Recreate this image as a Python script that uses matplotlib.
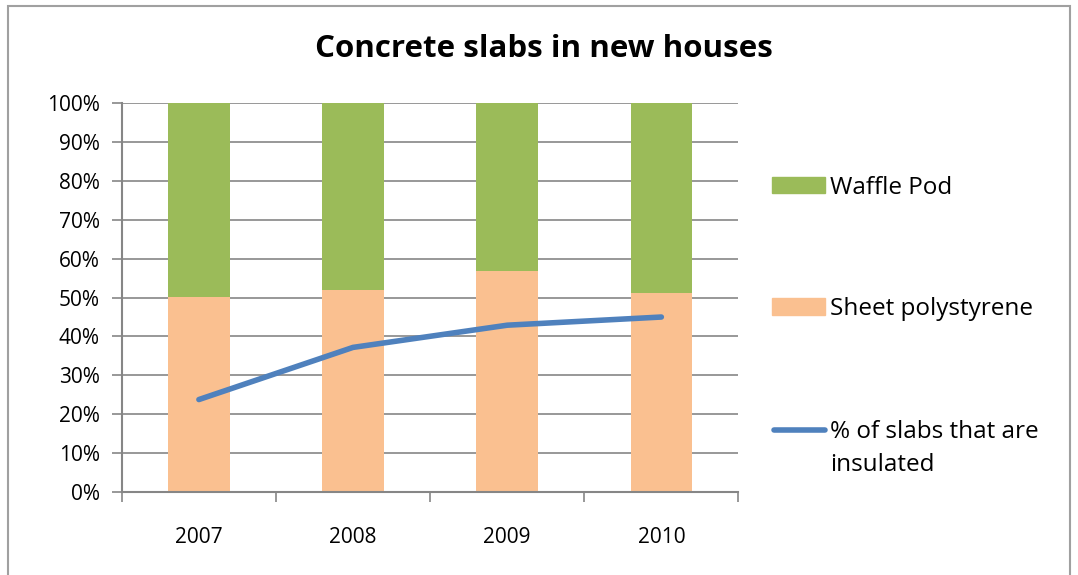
import matplotlib
matplotlib.use("Agg")
import matplotlib.pyplot as plt
from matplotlib.patches import Rectangle
from matplotlib.lines import Line2D
from matplotlib.ticker import FixedLocator, PercentFormatter
import numpy as np

years = ["2007", "2008", "2009", "2010"]
sheet_poly = [50.1, 51.9, 56.9, 51.3]
waffle_pod = [100 - v for v in sheet_poly]
insulated = [23.8, 37.2, 42.9, 45.0]
legend_labels = ["Waffle Pod", "Sheet polystyrene", "% of slabs that are\ninsulated"]

plt.rcParams['font.family'] = ['Open Sans', 'DejaVu Sans']

W, H = 1078, 575
fig = plt.figure(figsize=(W / 100, H / 100), dpi=100)
ax = fig.add_axes([0.113, 0.144, 0.572, 0.677])

x = np.arange(len(years))
green = "#9BBB59"
orange = "#FAC090"
blue = "#4F81BD"
grey = "#868686"

ax.bar(x, sheet_poly, width=0.4, color=orange, zorder=2)
ax.bar(x, waffle_pod, bottom=sheet_poly, width=0.4, color=green, zorder=2)
ax.plot(x, insulated, color=blue, lw=4, solid_capstyle='round', zorder=3)

ax.set_xlim(-0.5, len(years) - 0.5)
ax.set_ylim(0, 100)
ax.set_yticks(np.arange(0, 101, 10))
ax.yaxis.set_major_formatter(PercentFormatter(decimals=0))
ax.set_xticks(x)
ax.set_xticklabels(years)
ax.xaxis.set_minor_locator(FixedLocator(np.arange(-0.5, len(years), 1.0)))
ax.tick_params(axis='x', which='major', length=0, pad=25, labelsize=15)
ax.tick_params(axis='x', which='minor', length=7, color=grey, width=1.2, direction='out')
ax.tick_params(axis='y', length=7, color=grey, width=1.2, direction='out', labelsize=15, pad=9)
ax.grid(axis='y', color=grey, lw=1.2, zorder=1)
ax.set_axisbelow(True)
for s in ['top', 'right']:
    ax.spines[s].set_visible(False)
for s in ['left', 'bottom']:
    ax.spines[s].set_color(grey)
    ax.spines[s].set_linewidth(1.5)

fig.text(0.505, 0.915, "Concrete slabs in new houses", ha='center', va='center',
         fontsize=22.5, fontweight='bold')

# Legend drawn in figure pixel coordinates (Excel-style, handle aligned with first line)
def fx(px):
    return px / W

def fy(py):
    return 1 - py / H

hx0, hx1, tx = 772, 825, 830
fs = 17.5
# Waffle Pod
fig.patches.append(Rectangle((fx(hx0), fy(193)), fx(hx1) - fx(hx0), fy(177) - fy(193),
                             transform=fig.transFigure, color=green))
fig.text(fx(tx), fy(188), legend_labels[0], fontsize=fs, va='center', ha='left')
# Sheet polystyrene
fig.patches.append(Rectangle((fx(hx0), fy(315)), fx(hx1) - fx(hx0), fy(298) - fy(315),
                             transform=fig.transFigure, color=orange))
fig.text(fx(tx), fy(309), legend_labels[1], fontsize=fs, va='center', ha='left')
# Line
fig.lines.append(Line2D([fx(hx0 + 2), fx(hx1)], [fy(430), fy(430)], transform=fig.transFigure,
                        color=blue, lw=4, solid_capstyle='round'))
fig.text(fx(tx), fy(420.5), legend_labels[2], fontsize=fs, va='top', ha='left',
         linespacing=1.45)

fig.patches.append(Rectangle((0.007, -0.01), 0.986, 1.0, transform=fig.transFigure,
                             fill=False, edgecolor="#A0A0A0", lw=1.5))

fig.savefig("out.png", dpi=100)
